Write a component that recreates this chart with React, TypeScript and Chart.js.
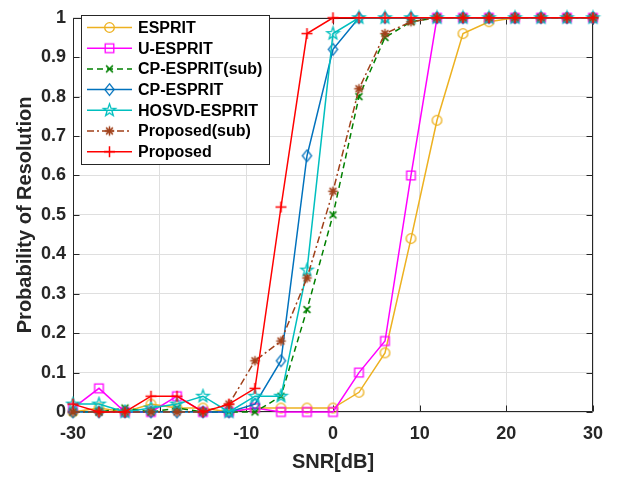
import React, { useEffect, useRef } from 'react';
import { Chart, registerables } from 'chart.js';

Chart.register(...registerables);

// ---------------- data ----------------
const snr = [-30, -27, -24, -21, -18, -15, -12, -9, -6, -3, 0, 3, 6, 9, 12, 15, 18, 21, 24, 27, 30];

const esprit = [0, 0.01, 0, 0.02, 0.01, 0.01, 0, 0.01, 0.01, 0.01, 0.01, 0.05, 0.15, 0.44, 0.74, 0.96, 0.99, 1, 1, 1, 1];
const uEsprit = [0.01, 0.06, 0, 0, 0.04, 0, 0, 0.01, 0, 0, 0, 0.1, 0.18, 0.6, 1, 1, 1, 1, 1, 1, 1];
const cpEspritSub = [0, 0, 0.01, 0, 0.01, 0, 0, 0, 0.04, 0.26, 0.5, 0.8, 0.95, 0.99, 1, 1, 1, 1, 1, 1, 1];
const cpEsprit = [0, 0, 0, 0, 0, 0, 0, 0.02, 0.13, 0.65, 0.92, 1, 1, 1, 1, 1, 1, 1, 1, 1, 1];
const hosvdEsprit = [0.02, 0.02, 0, 0.01, 0.02, 0.04, 0, 0.04, 0.04, 0.36, 0.96, 1, 1, 1, 1, 1, 1, 1, 1, 1, 1];
const proposedSub = [0, 0, 0, 0, 0, 0, 0.02, 0.13, 0.18, 0.34, 0.56, 0.82, 0.96, 0.99, 1, 1, 1, 1, 1, 1, 1];
const proposed = [0.02, 0, 0, 0.04, 0.04, 0, 0.02, 0.06, 0.52, 0.96, 1, 1, 1, 1, 1, 1, 1, 1, 1, 1, 1];

const seriesNames = ['ESPRIT', 'U-ESPRIT', 'CP-ESPRIT(sub)', 'CP-ESPRIT', 'HOSVD-ESPRIT', 'Proposed(sub)', 'Proposed'];
const seriesValues = [esprit, uEsprit, cpEspritSub, cpEsprit, hosvdEsprit, proposedSub, proposed];
const seriesColors = ['#EDB120', '#FF00FF', '#008000', '#0072BD', '#00BFBF', '#A0401A', '#FF0000'];
const seriesMarkers = ['circle', 'square', 'x', 'diamond', 'pentagram', 'asterisk', 'plus'];
const seriesDash: number[][] = [[], [], [6, 4], [], [], [7, 3, 2, 3], []];

const xTicks = [-30, -20, -10, 0, 10, 20, 30];
const yTicks = [0, 0.1, 0.2, 0.3, 0.4, 0.5, 0.6, 0.7, 0.8, 0.9, 1];

const xTitle = 'SNR[dB]';
const yTitle = 'Probability of Resolution';

const FONT = "'Liberation Sans', Arial, Helvetica, sans-serif";
const AXIS_COLOR = '#262626';

// ---------------- markers ----------------
function makeMarker(kind: string, color: string): HTMLCanvasElement {
  const s = 17;
  const c = document.createElement('canvas');
  c.width = s;
  c.height = s;
  const ctx = c.getContext('2d')!;
  const m = s / 2;
  ctx.strokeStyle = color;
  ctx.lineWidth = 1.3;
  ctx.beginPath();
  if (kind === 'circle') {
    ctx.arc(m, m, 4.8, 0, Math.PI * 2);
  } else if (kind === 'square') {
    ctx.rect(m - 4.3, m - 4.3, 8.6, 8.6);
  } else if (kind === 'x') {
    const r = 3.4;
    ctx.lineWidth = 1.5;
    ctx.moveTo(m - r, m - r); ctx.lineTo(m + r, m + r);
    ctx.moveTo(m - r, m + r); ctx.lineTo(m + r, m - r);
  } else if (kind === 'diamond') {
    ctx.moveTo(m, m - 5.8); ctx.lineTo(m + 4.6, m); ctx.lineTo(m, m + 5.8); ctx.lineTo(m - 4.6, m); ctx.closePath();
  } else if (kind === 'pentagram') {
    const ro = 6.5, ri = 2.6;
    for (let i = 0; i < 10; i++) {
      const r = i % 2 === 0 ? ro : ri;
      const a = -Math.PI / 2 + (i * Math.PI) / 5;
      const px = m + r * Math.cos(a), py = m + r * Math.sin(a);
      if (i === 0) ctx.moveTo(px, py); else ctx.lineTo(px, py);
    }
    ctx.closePath();
  } else if (kind === 'asterisk') {
    const r = 4.8;
    ctx.lineWidth = 1.5;
    for (let i = 0; i < 4; i++) {
      const a = (i * Math.PI) / 4;
      ctx.moveTo(m - r * Math.cos(a), m - r * Math.sin(a));
      ctx.lineTo(m + r * Math.cos(a), m + r * Math.sin(a));
    }
  } else if (kind === 'plus') {
    const r = 5.5;
    ctx.lineWidth = 1.5;
    ctx.moveTo(m - r, m); ctx.lineTo(m + r, m);
    ctx.moveTo(m, m - r); ctx.lineTo(m, m + r);
  }
  ctx.stroke();
  return c;
}

// ---------------- plugins ----------------
const framePlugin = {
  id: 'matlabFrame',
  beforeDatasetsDraw(chart: any) {
    const { ctx, chartArea: a, scales } = chart;
    const L = Math.round(a.left) + 0.5, R = Math.round(a.right) - 0.5;
    const T = Math.round(a.top) + 0.5, B = Math.round(a.bottom) - 0.5;
    ctx.save();
    ctx.strokeStyle = AXIS_COLOR;
    ctx.lineWidth = 1;
    ctx.beginPath();
    ctx.rect(L, T, R - L, B - T);
    const tl = 6;
    xTicks.forEach((v) => {
      const px = Math.round(scales.x.getPixelForValue(v)) + 0.5;
      ctx.moveTo(px, B); ctx.lineTo(px, B - tl);
      ctx.moveTo(px, T); ctx.lineTo(px, T + tl);
    });
    yTicks.forEach((v) => {
      const py = Math.round(scales.y.getPixelForValue(v)) + 0.5;
      ctx.moveTo(L, py); ctx.lineTo(L + tl, py);
      ctx.moveTo(R, py); ctx.lineTo(R - tl, py);
    });
    ctx.stroke();
    ctx.restore();
  },
};

function makeLegendPlugin(markers: HTMLCanvasElement[]) {
  return {
    id: 'boxLegend',
    afterDraw(chart: any) {
      const { ctx } = chart;
      const bx = 81.5, by = 15.5, bw = 188, bh = 149;
      ctx.save();
      ctx.fillStyle = '#ffffff';
      ctx.fillRect(bx, by, bw, bh);
      ctx.strokeStyle = AXIS_COLOR;
      ctx.lineWidth = 1;
      ctx.strokeRect(bx, by, bw, bh);
      ctx.font = `bold 16px ${FONT}`;
      ctx.textBaseline = 'middle';
      ctx.textAlign = 'left';
      seriesNames.forEach((name, i) => {
        const y = 27.5 + i * 20.7;
        ctx.strokeStyle = seriesColors[i];
        ctx.lineWidth = 1.5;
        ctx.setLineDash(seriesDash[i]);
        ctx.beginPath();
        ctx.moveTo(87, y);
        ctx.lineTo(132, y);
        ctx.stroke();
        ctx.setLineDash([]);
        const mk = markers[i];
        ctx.drawImage(mk, 109.5 - mk.width / 2, y - mk.height / 2);
        ctx.fillStyle = '#000000';
        ctx.fillText(name, 138, y + 1);
      });
      ctx.restore();
    },
  };
}

// ---------------- component ----------------
export default function App() {
  const ref = useRef<HTMLCanvasElement | null>(null);

  useEffect(() => {
    document.body.style.margin = '0';
    const canvas = ref.current;
    if (!canvas) return;
    const markers = seriesNames.map((_, i) => makeMarker(seriesMarkers[i], seriesColors[i]));

    const datasets = seriesNames.map((name, i) => ({
      label: name,
      data: snr.map((x, j) => ({ x, y: seriesValues[i][j] })),
      borderColor: seriesColors[i],
      backgroundColor: seriesColors[i],
      borderWidth: 1.5,
      borderDash: seriesDash[i],
      pointStyle: markers[i] as any,
      pointRadius: 4,
      pointHoverRadius: 4,
      tension: 0,
      fill: false,
      clip: false as any,
      order: seriesNames.length - 1 - i,
    }));

    const chart = new Chart(canvas, {
      type: 'line',
      data: { datasets },
      options: {
        animation: false,
        responsive: false,
        events: [],
        layout: { padding: { left: 0, right: 25, top: 9, bottom: 0 } },
        plugins: {
          legend: { display: false },
          tooltip: { enabled: false },
        },
        scales: {
          x: {
            type: 'linear',
            min: -30,
            max: 30,
            afterBuildTicks: (s: any) => { s.ticks = xTicks.map((v) => ({ value: v })); },
            afterFit: (s: any) => { s.height = 66; },
            grid: { color: '#dfdfdf', lineWidth: 1, drawTicks: false },
            border: { display: false },
            ticks: {
              padding: 11,
              color: AXIS_COLOR,
              font: { family: FONT, size: 18, weight: 'bold' },
              maxRotation: 0,
              callback: (v: any) => String(v),
            },
            title: {
              display: true,
              text: xTitle,
              color: AXIS_COLOR,
              font: { family: FONT, size: 20, weight: 'bold' },
              padding: { top: 0, bottom: 4 },
            },
          },
          y: {
            type: 'linear',
            min: 0,
            max: 1,
            afterBuildTicks: (s: any) => { s.ticks = yTicks.map((v) => ({ value: v })); },
            afterFit: (s: any) => { s.width = 73; },
            grid: { color: '#dfdfdf', lineWidth: 1, drawTicks: false },
            border: { display: false },
            ticks: {
              padding: 7,
              color: AXIS_COLOR,
              font: { family: FONT, size: 18, weight: 'bold' },
              callback: (v: any) => String(Math.round(Number(v) * 10) / 10),
            },
            title: {
              display: true,
              text: yTitle,
              color: AXIS_COLOR,
              font: { family: FONT, size: 20, weight: 'bold' },
              padding: { top: 13, bottom: 0 },
            },
          },
        },
      },
      plugins: [framePlugin, makeLegendPlugin(markers)],
    });

    return () => chart.destroy();
  }, []);

  return (
    <div style={{ width: 618, height: 478 }}>
      <canvas ref={ref} width={618} height={478} style={{ display: 'block', width: 618, height: 478 }} />
    </div>
  );
}
